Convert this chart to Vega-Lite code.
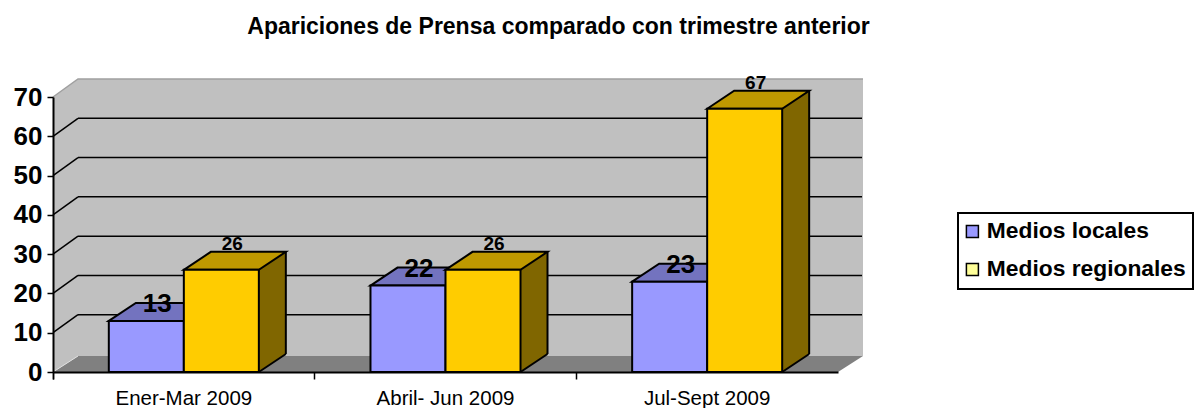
{
"$schema":"https://vega.github.io/schema/vega-lite/v6.json",
"width":785,"height":275,
"autosize":{"type":"none"},
"padding":{"left":53,"top":97,"right":356,"bottom":36},
"background":"white",
"title":{"text":"Apariciones de Prensa comparado con trimestre anterior","anchor":"middle","dx":113,"offset":60,"dy":25,"font":"Liberation Sans","fontSize":23,"fontWeight":"bold","color":"black"},
"config":{"view":{"stroke":null},"text":{"font":"Liberation Sans"},"legend":{"strokeWidth":2}},
"datasets":{
"prensa":[
{"periodo":"Ener-Mar 2009","serie":"Medios locales","valor":13},
{"periodo":"Ener-Mar 2009","serie":"Medios regionales","valor":26},
{"periodo":"Abril- Jun 2009","serie":"Medios locales","valor":22},
{"periodo":"Abril- Jun 2009","serie":"Medios regionales","valor":26},
{"periodo":"Jul-Sept 2009","serie":"Medios locales","valor":23},
{"periodo":"Jul-Sept 2009","serie":"Medios regionales","valor":67}],
"base":[{"nivel":0}],
"rejilla":[{"nivel":10},{"nivel":20},{"nivel":30},{"nivel":40},{"nivel":50},{"nivel":60}]
},
"data":{"name":"prensa"},
"resolve":{"scale":{"fill":"independent"}},
"encoding":{
  "y":{"type":"quantitative","title":null,"scale":{"domain":[0,70],"nice":false},
   "axis":{"zindex":1,"values":[0,10,20,30,40,50,60,70],"labelOverlap":false,"grid":false,"domainColor":"black","domainWidth":2,"tickColor":"black","tickWidth":1.5,"tickSize":6,"labelFont":"Liberation Sans","labelFontSize":26,"labelFontWeight":"bold","labelColor":"black","labelPadding":5}}
},
"layer":[
{"mark":{"type":"bar","stroke":"black"},
 "encoding":{
  "x":{"field":"periodo","type":"nominal","sort":null,"title":null,"scale":{"type":"band","paddingInner":0,"paddingOuter":0},
   "axis":{"zindex":1,"labelAngle":0,"bandPosition":0,"tickExtra":true,"domainColor":"black","domainWidth":2,"tickColor":"black","tickWidth":1.5,"tickSize":7,"labelFont":"Liberation Sans","labelFontSize":20.5,"labelColor":"black","labelPadding":9}},
  "xOffset":{"field":"serie","type":"nominal","sort":null,"scale":{"type":"band","paddingInner":0,"paddingOuter":0.744}},
  "y":{"field":"valor","type":"quantitative"},
  "color":{"field":"serie","type":"nominal","sort":null,"scale":{"domain":["Medios locales","Medios regionales"],"range":["#9999FF","#FFFF99"]},
   "legend":{"title":null,"orient":"none","legendX":905,"legendY":116,"strokeColor":"black","fillColor":"white","padding":7,"symbolOffset":-4,"symbolType":"square","symbolSize":144,"symbolStrokeColor":"black","symbolStrokeWidth":1.5,"labelFont":"Liberation Sans","labelFontSize":22.8,"labelFontWeight":"bold","labelColor":"black","labelLimit":300,"rowPadding":14,"labelOffset":3}}
 }},
{"data":{"name":"base"},"mark":{"type":"point","filled":true,"opacity":1,"size":4,"fill":"#C0C0C0","stroke":null,"shape":"M25 -293L810 -293L810 -16L25 -16Z"},
 "encoding":{"x":{"value":0},"y":{"field":"nivel","type":"quantitative"}}},
{"data":{"name":"base"},"mark":{"type":"point","filled":true,"opacity":1,"size":4,"fill":"#C0C0C0","stroke":null,"shape":"M0 0L25 -16L25 -293L0 -275Z"},
 "encoding":{"x":{"value":0},"y":{"field":"nivel","type":"quantitative"}}},
{"data":{"name":"base"},"mark":{"type":"point","filled":true,"opacity":1,"size":4,"fill":"#808080","stroke":null,"shape":"M0 0L25 -16L810 -16L785 0Z"},
 "encoding":{"x":{"value":0},"y":{"field":"nivel","type":"quantitative"}}},
{"data":{"name":"base"},"mark":{"type":"point","filled":false,"opacity":1,"size":4,"fill":null,"stroke":"#A0A0A0","strokeWidth":1.5,"shape":"M0 -275L25 -293L810 -293"},
 "encoding":{"x":{"value":0},"y":{"field":"nivel","type":"quantitative"}}},
{"data":{"name":"base"},"mark":{"type":"point","filled":false,"opacity":1,"size":4,"fill":null,"stroke":"#E0E0E0","strokeWidth":1,"shape":"M0 0L25 -16"},
 "encoding":{"x":{"value":0},"y":{"field":"nivel","type":"quantitative"}}},
{"data":{"name":"rejilla"},"mark":{"type":"rule","stroke":"black","strokeWidth":1.5,"yOffset":-18},
 "encoding":{"x":{"value":25},"x2":{"value":809},"y":{"field":"nivel","type":"quantitative"}}},
{"data":{"name":"rejilla"},"mark":{"type":"point","filled":false,"opacity":1,"size":4,"fill":null,"stroke":"black","strokeWidth":1.5,"shape":"M0 0L25 -18"},
 "encoding":{"x":{"value":0},"y":{"field":"nivel","type":"quantitative"}}},
{"transform":[{"filter":"datum.serie === 'Medios regionales'"}],
 "mark":{"type":"bar","width":27,"xOffset":88.5,"yOffset":-18,"y2Offset":-18,"fill":"#806600","stroke":null},
 "encoding":{"x":{"field":"periodo","type":"nominal","sort":null},"y":{"field":"valor","type":"quantitative"}}},
{"transform":[{"filter":"datum.serie === 'Medios regionales'"}],
 "mark":{"type":"point","filled":true,"opacity":1,"size":4,"fill":"#806600","stroke":null,"shape":"M37.5 0L64.5 -18L37.5 -18Z"},
 "encoding":{"x":{"field":"periodo","type":"nominal","sort":null},"xOffset":{"field":"serie","type":"nominal","sort":null},"y":{"datum":0}}},
{"transform":[{"filter":"datum.serie === 'Medios regionales'"}],
 "mark":{"type":"point","filled":false,"opacity":1,"size":4,"fill":null,"stroke":"black","strokeWidth":2,"shape":"M37.5 0L64.5 -18"},
 "encoding":{"x":{"field":"periodo","type":"nominal","sort":null},"xOffset":{"field":"serie","type":"nominal","sort":null},"y":{"datum":0}}},
{"transform":[{"filter":"datum.serie === 'Medios regionales'"}],
 "mark":{"type":"rule","stroke":"black","strokeWidth":2,"xOffset":102,"yOffset":-18,"y2Offset":-18},
 "encoding":{"x":{"field":"periodo","type":"nominal","sort":null},"y":{"field":"valor","type":"quantitative"},"y2":{"datum":0}}},
{"mark":{"type":"point","filled":true,"opacity":1,"size":4,"stroke":"black","strokeWidth":2,"shape":"M-37.5 0L-10.5 -18L64.5 -18L37.5 0Z"},
 "encoding":{"x":{"field":"periodo","type":"nominal","sort":null},"xOffset":{"field":"serie","type":"nominal","sort":null},"y":{"field":"valor","type":"quantitative"},
  "fill":{"field":"serie","type":"nominal","sort":null,"legend":null,"scale":{"domain":["Medios locales","Medios regionales"],"range":["#7373BF","#BF9900"]}}}},
{"mark":{"type":"bar","stroke":"black","strokeWidth":2},
 "encoding":{"x":{"field":"periodo","type":"nominal","sort":null},"xOffset":{"field":"serie","type":"nominal","sort":null},"y":{"field":"valor","type":"quantitative"},
  "fill":{"field":"serie","type":"nominal","sort":null,"legend":null,"scale":{"domain":["Medios locales","Medios regionales"],"range":["#9999FF","#FFCC00"]}}}},
{"transform":[{"filter":"datum.serie === 'Medios locales'"}],
 "mark":{"type":"text","fontSize":26,"fontWeight":"bold","color":"black","baseline":"middle","dx":11,"dy":-17},
 "encoding":{"x":{"field":"periodo","type":"nominal","sort":null},"xOffset":{"field":"serie","type":"nominal","sort":null},"y":{"field":"valor","type":"quantitative"},"text":{"field":"valor","type":"quantitative"}}},
{"transform":[{"filter":"datum.serie === 'Medios regionales'"}],
 "mark":{"type":"text","fontSize":19,"fontWeight":"bold","color":"black","baseline":"middle","dx":11,"dy":-26},
 "encoding":{"x":{"field":"periodo","type":"nominal","sort":null},"xOffset":{"field":"serie","type":"nominal","sort":null},"y":{"field":"valor","type":"quantitative"},"text":{"field":"valor","type":"quantitative"}}}
]
}
